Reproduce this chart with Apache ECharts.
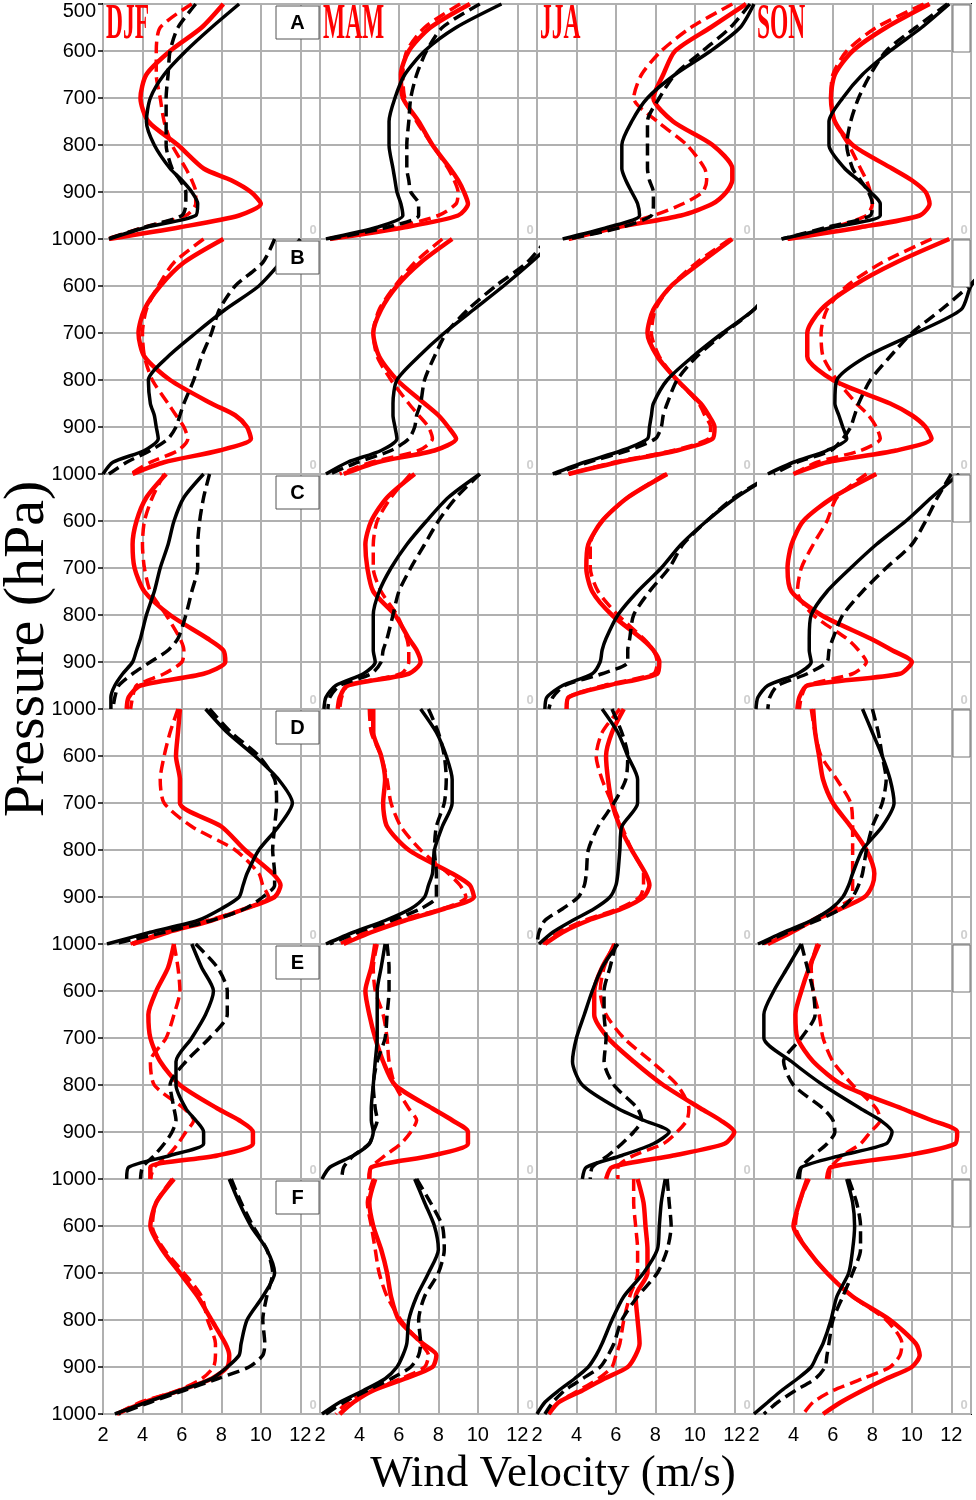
<!DOCTYPE html>
<html>
<head>
<meta charset="utf-8">
<title>Wind velocity profiles</title>
<script src="https://cdn.jsdelivr.net/npm/echarts@6/dist/echarts.min.js"></script>
<style>
  html, body { margin: 0; padding: 0; background: #fff; }
  #chart { width: 976px; height: 1500px; }
</style>
</head>
<body>
<div id="chart"></div>
<script>
// pressure levels (hPa) shared by every profile
var pressure = [500, 550, 600, 650, 700, 750, 800, 850, 875, 900, 925, 950, 975, 1000];
var seasons = ['DJF', 'MAM', 'JJA', 'SON'];
var regions = ['A', 'B', 'C', 'D', 'E', 'F'];
var xTicks = [2, 4, 6, 8, 10, 12];
var yTicks = [500, 600, 700, 800, 900, 1000];

// wind speed (m/s), one sub-array per season: DJF, MAM, JJA, SON
var A_redSolid = [
  [8.1, 7.0, 5.4, 4.2, 3.9, 4.3, 5.8, 7.1, 8.5, 9.5, 10.0, 8.9, 5.9, 2.3],
  [9.6, 7.6, 6.5, 6.1, 6.2, 7.0, 7.7, 8.6, 9.0, 9.3, 9.5, 9.0, 6.3, 2.5],
  [12.6, 10.8, 9.0, 8.4, 7.9, 8.9, 10.9, 11.9, 11.9, 11.6, 10.9, 9.3, 6.1, 3.6],
  [10.9, 8.7, 7.0, 6.1, 5.9, 6.1, 7.0, 9.0, 10.0, 10.7, 10.9, 10.4, 7.4, 3.7]
];
var A_redDashed = [
  [6.5, 4.9, 4.7, 4.7, 4.9, 5.1, 5.5, 6.2, 6.5, 6.7, 6.7, 6.2, 4.1, 2.2],
  [9.1, 7.3, 6.4, 6.2, 6.3, 6.9, 7.7, 8.5, 8.8, 9.0, 8.9, 8.0, 5.8, 2.3],
  [11.9, 9.8, 8.3, 7.3, 6.9, 8.1, 9.6, 10.5, 10.6, 10.4, 9.4, 7.9, 5.8, 3.6],
  [10.6, 8.2, 6.7, 6.0, 5.9, 6.1, 6.8, 7.4, 7.7, 7.9, 8.0, 7.7, 6.0, 3.7]
];
var A_blackSolid = [
  [8.9, 7.5, 6.2, 5.1, 4.4, 4.2, 4.6, 5.4, 6.0, 6.5, 6.8, 6.7, 4.2, 2.3],
  [11.2, 8.9, 7.3, 6.3, 5.8, 5.5, 5.5, 5.7, 5.8, 5.9, 6.1, 6.2, 4.9, 2.3],
  [13.0, 12.3, 10.8, 9.0, 7.6, 6.8, 6.3, 6.3, 6.5, 6.8, 7.1, 7.2, 5.6, 3.3],
  [11.9, 10.5, 8.9, 7.5, 6.5, 5.8, 5.8, 6.6, 7.3, 7.9, 8.4, 8.4, 6.0, 3.4]
];
var A_blackDashed = [
  [6.7, 5.8, 5.4, 5.3, 5.2, 5.2, 5.2, 5.5, 5.9, 6.2, 6.2, 6.0, 4.1, 2.2],
  [10.1, 8.2, 7.4, 6.9, 6.6, 6.5, 6.4, 6.4, 6.5, 6.6, 7.0, 7.0, 5.4, 2.5],
  [12.8, 11.8, 10.4, 9.0, 8.2, 7.6, 7.6, 7.6, 7.7, 7.9, 7.9, 7.8, 6.3, 3.6],
  [11.8, 10.2, 8.7, 7.9, 7.3, 6.9, 6.7, 7.0, 7.4, 7.8, 8.0, 7.9, 5.7, 3.4]
];

var B_redSolid = [
  [8.1, 6.1, 4.9, 4.1, 3.8, 4.1, 5.4, 7.5, 8.7, 9.3, 9.5, 7.9, 5.1, 3.5],
  [8.7, 7.1, 5.9, 5.1, 4.7, 5.0, 5.9, 7.3, 8.0, 8.5, 8.9, 7.8, 4.9, 3.2],
  [11.9, 10.3, 8.8, 7.9, 7.6, 8.1, 9.1, 10.3, 10.7, 11.0, 10.9, 9.1, 6.1, 3.6],
  [11.9, 9.2, 7.0, 5.4, 4.7, 4.7, 6.0, 8.9, 10.0, 10.7, 11.0, 9.2, 5.7, 4.0]
];
var B_redDashed = [
  [7.1, 5.6, 4.8, 4.2, 4.0, 4.1, 4.5, 5.3, 5.7, 6.1, 6.3, 5.8, 4.4, 3.4],
  [8.2, 6.8, 5.8, 5.0, 4.7, 4.9, 5.6, 6.5, 7.0, 7.5, 7.7, 7.0, 4.6, 3.0],
  [11.8, 10.1, 8.8, 8.0, 7.8, 8.2, 9.1, 10.2, 10.5, 10.8, 10.7, 8.9, 5.9, 3.6],
  [11.0, 8.5, 6.7, 5.7, 5.4, 5.5, 6.2, 7.2, 7.8, 8.2, 8.4, 7.4, 5.2, 4.0]
];
var B_blackSolid = [
  [12.0, 11.0, 9.9, 8.2, 6.7, 5.3, 4.3, 4.4, 4.6, 4.7, 4.8, 4.1, 2.5, 2.0],
  [14.0, 12.7, 11.3, 9.8, 8.3, 7.0, 5.9, 5.7, 5.7, 5.8, 5.9, 5.1, 3.4, 2.3],
  [16.0, 15.0, 14.0, 13.0, 11.4, 9.9, 8.6, 7.9, 7.8, 7.7, 7.6, 6.3, 4.4, 2.8],
  [15.0, 14.0, 13.0, 12.5, 10.2, 7.7, 6.2, 6.1, 6.3, 6.5, 6.7, 5.7, 4.0, 2.7]
];
var B_blackDashed = [
  [10.7, 10.1, 8.7, 7.9, 7.5, 7.0, 6.6, 6.1, 5.9, 5.7, 5.3, 4.4, 3.2, 2.3],
  [13.5, 12.5, 10.9, 9.5, 8.4, 7.8, 7.3, 7.1, 6.9, 6.8, 6.5, 5.6, 3.9, 2.5],
  [16.0, 15.0, 14.0, 13.0, 11.5, 10.1, 9.1, 8.6, 8.4, 8.3, 8.0, 6.6, 4.6, 2.9],
  [15.0, 14.0, 12.9, 11.5, 10.0, 8.9, 7.9, 7.3, 7.1, 6.9, 6.5, 5.9, 4.2, 3.0]
];

var C_redSolid = [
  [5.2, 4.2, 3.7, 3.5, 3.6, 4.1, 5.4, 7.3, 8.1, 8.2, 7.1, 3.9, 3.3, 3.2],
  [6.8, 5.4, 4.6, 4.3, 4.4, 4.7, 5.8, 6.5, 6.9, 7.1, 6.5, 3.4, 3.0, 2.9],
  [8.6, 6.6, 5.3, 4.6, 4.5, 4.8, 5.8, 7.3, 7.9, 8.2, 8.1, 5.6, 3.6, 3.5],
  [8.2, 6.0, 4.5, 3.9, 3.7, 3.9, 5.4, 7.9, 9.0, 10.0, 9.4, 4.7, 4.3, 4.2]
];
var C_redDashed = [
  [5.1, 4.5, 4.1, 4.0, 4.1, 4.4, 5.2, 5.9, 6.1, 6.0, 5.1, 3.7, 3.5, 3.4],
  [6.6, 5.6, 4.9, 4.7, 4.7, 5.1, 5.9, 6.4, 6.5, 6.5, 6.1, 3.4, 3.1, 3.0],
  [8.5, 6.6, 5.3, 4.7, 4.7, 5.1, 6.1, 7.4, 7.9, 8.1, 7.9, 5.4, 3.6, 3.5],
  [7.7, 6.2, 5.7, 5.0, 4.4, 4.2, 5.0, 6.7, 7.3, 7.7, 7.0, 4.7, 4.4, 4.3]
];
var C_blackSolid = [
  [7.1, 6.1, 5.6, 5.3, 4.9, 4.6, 4.2, 3.9, 3.7, 3.5, 3.0, 2.6, 2.4, 2.4],
  [10.1, 8.5, 7.4, 6.4, 5.6, 5.0, 4.7, 4.7, 4.7, 4.8, 4.2, 2.8, 2.3, 2.2],
  [14.0, 12.1, 10.6, 9.3, 8.3, 7.1, 6.1, 5.5, 5.3, 5.2, 4.8, 3.3, 2.5, 2.4],
  [12.4, 11.0, 9.7, 8.2, 6.9, 5.7, 4.9, 4.8, 4.8, 4.9, 4.2, 2.7, 2.2, 2.1]
];
var C_blackDashed = [
  [7.4, 7.1, 6.9, 6.8, 6.8, 6.5, 6.2, 5.8, 5.3, 4.4, 3.5, 2.8, 2.6, 2.5],
  [10.1, 8.9, 8.0, 7.3, 6.6, 6.0, 5.7, 5.4, 5.2, 5.1, 4.6, 3.0, 2.5, 2.4],
  [14.0, 12.0, 10.6, 9.4, 8.7, 7.7, 6.9, 6.7, 6.6, 6.6, 5.3, 3.4, 2.8, 2.6],
  [12.0, 11.3, 10.7, 10.0, 8.7, 7.5, 6.5, 6.0, 5.8, 5.7, 4.7, 3.2, 2.8, 2.7]
];

var D_redSolid = [
  [5.9, 5.8, 5.7, 5.9, 5.9, 8.0, 9.2, 10.6, 11.0, 10.7, 9.2, 7.5, 5.3, 3.5],
  [4.7, 4.7, 5.1, 5.3, 5.2, 5.4, 6.5, 8.7, 9.6, 9.8, 8.3, 6.3, 4.6, 3.2],
  [6.4, 5.8, 5.5, 5.6, 5.8, 6.2, 6.8, 7.5, 7.7, 7.4, 6.3, 4.6, 3.3, 2.4],
  [5.0, 5.1, 5.3, 5.5, 6.0, 6.9, 7.7, 8.1, 8.0, 7.6, 6.4, 5.0, 3.9, 2.7]
];
var D_redDashed = [
  [5.8, 5.4, 5.1, 4.9, 5.1, 6.5, 8.7, 9.9, 10.1, 10.4, 9.2, 7.3, 5.1, 3.4],
  [4.5, 4.6, 5.1, 5.4, 5.6, 6.1, 7.1, 8.5, 9.1, 9.4, 8.2, 5.9, 4.2, 3.0],
  [6.2, 5.3, 5.0, 5.3, 5.8, 6.3, 6.8, 7.4, 7.4, 7.2, 6.1, 4.4, 3.1, 2.3],
  [4.9, 5.1, 5.4, 6.2, 6.9, 7.0, 7.0, 7.0, 7.0, 7.0, 6.0, 4.9, 3.7, 2.5]
];
var D_blackSolid = [
  [7.2, 8.3, 9.7, 10.9, 11.6, 10.9, 9.9, 9.3, 9.1, 8.9, 8.0, 6.8, 4.4, 2.2],
  [7.1, 7.9, 8.4, 8.7, 8.7, 8.2, 7.8, 7.7, 7.5, 7.3, 6.6, 5.3, 3.7, 2.3],
  [5.3, 6.1, 6.6, 7.1, 7.1, 6.3, 6.2, 6.1, 6.0, 5.7, 4.9, 3.8, 2.8, 2.1],
  [7.5, 8.0, 8.5, 8.9, 9.1, 8.5, 7.5, 7.0, 6.8, 6.5, 5.9, 4.9, 3.5, 2.2]
];
var D_blackDashed = [
  [7.4, 8.5, 9.9, 10.7, 10.8, 10.7, 10.6, 10.7, 10.7, 10.1, 9.2, 7.5, 5.1, 2.5],
  [7.5, 8.0, 8.3, 8.4, 8.3, 7.9, 7.8, 7.9, 7.9, 7.9, 7.1, 5.6, 3.9, 2.5],
  [5.8, 6.3, 6.6, 6.5, 5.9, 5.1, 4.6, 4.5, 4.4, 4.1, 3.3, 2.4, 2.1, 2.0],
  [8.0, 8.3, 8.5, 8.7, 8.5, 8.0, 7.7, 7.5, 7.3, 7.0, 6.4, 5.2, 3.7, 2.4]
];

var E_redSolid = [
  [5.6, 5.3, 4.7, 4.3, 4.4, 4.9, 5.9, 7.8, 8.9, 9.6, 9.6, 7.8, 4.4, 4.4],
  [4.8, 4.6, 4.3, 4.5, 4.8, 5.2, 5.8, 7.7, 8.7, 9.5, 9.5, 7.7, 4.6, 4.5],
  [6.0, 5.3, 4.9, 4.9, 5.6, 6.9, 8.4, 10.3, 11.3, 12.0, 11.5, 8.9, 5.8, 5.5],
  [5.3, 4.8, 4.4, 4.1, 4.2, 5.0, 6.5, 9.5, 11.0, 12.3, 12.2, 9.7, 5.9, 5.7]
];
var E_redDashed = [
  [5.6, 5.8, 5.9, 5.6, 5.2, 4.4, 4.6, 6.1, 6.6, 6.2, 5.8, 5.3, 4.6, 4.4],
  [4.9, 4.7, 4.8, 5.2, 5.4, 5.5, 5.8, 6.5, 6.9, 6.6, 6.1, 5.3, 4.6, 4.5],
  [5.9, 5.4, 5.2, 5.5, 6.4, 7.8, 9.1, 9.7, 9.6, 9.1, 8.4, 6.9, 6.1, 6.1],
  [5.2, 4.9, 5.0, 5.3, 5.5, 6.0, 7.0, 8.2, 8.4, 7.9, 7.4, 6.5, 5.9, 5.8]
];
var E_blackSolid = [
  [6.5, 7.0, 7.6, 7.2, 6.5, 5.7, 5.7, 6.2, 6.7, 7.1, 7.1, 5.4, 3.3, 3.2],
  [5.3, 5.1, 4.9, 4.9, 4.9, 4.8, 4.7, 4.6, 4.6, 4.7, 4.5, 3.7, 2.5, 2.1],
  [6.1, 5.3, 4.8, 4.4, 4.0, 3.8, 4.3, 6.1, 7.4, 8.7, 7.9, 6.3, 4.5, 4.3],
  [4.4, 3.7, 3.0, 2.5, 2.5, 3.9, 5.5, 7.4, 8.4, 9.0, 8.7, 6.4, 4.4, 4.2]
];
var E_blackDashed = [
  [6.7, 7.8, 8.3, 8.3, 7.4, 6.2, 5.4, 5.6, 5.7, 5.5, 5.1, 4.6, 4.0, 3.9],
  [5.4, 5.5, 5.5, 5.4, 5.3, 4.9, 4.7, 4.8, 4.9, 4.7, 4.5, 3.7, 3.2, 3.1],
  [6.0, 5.7, 5.4, 5.4, 5.5, 5.4, 5.9, 7.1, 7.3, 6.9, 6.3, 5.6, 4.8, 4.7],
  [4.4, 4.7, 5.0, 5.1, 4.4, 3.5, 4.0, 5.5, 6.0, 6.1, 5.7, 5.0, 4.4, 4.3]
];

var F_redSolid = [
  [5.6, 4.7, 4.4, 5.0, 5.9, 6.8, 7.5, 8.2, 8.4, 8.3, 7.5, 5.9, 4.1, 2.7],
  [4.8, 4.5, 4.7, 5.1, 5.4, 5.6, 6.0, 7.2, 7.9, 7.7, 6.3, 4.7, 3.7, 3.0],
  [7.1, 7.4, 7.5, 7.6, 7.6, 7.0, 7.1, 7.2, 7.0, 6.6, 5.4, 4.3, 3.1, 2.6],
  [4.7, 4.3, 4.0, 4.7, 5.7, 7.0, 8.9, 10.2, 10.4, 10.0, 8.7, 7.5, 6.4, 5.5]
];
var F_redDashed = [
  [5.5, 4.7, 4.5, 5.1, 6.1, 7.0, 7.3, 7.7, 7.7, 7.6, 7.0, 5.8, 3.9, 2.7],
  [4.7, 4.4, 4.6, 4.8, 5.0, 5.4, 6.1, 7.1, 7.5, 7.3, 6.1, 4.6, 3.4, 2.8],
  [6.9, 6.9, 7.0, 7.1, 7.1, 6.7, 6.4, 6.2, 6.0, 5.8, 5.1, 4.1, 3.1, 2.6],
  [4.8, 4.3, 4.1, 4.7, 5.7, 7.0, 8.7, 9.5, 9.4, 8.9, 7.5, 6.0, 5.0, 4.5]
];
var F_blackSolid = [
  [8.4, 8.9, 9.5, 10.3, 10.7, 10.1, 9.3, 9.0, 8.9, 8.3, 7.5, 5.9, 4.2, 2.6],
  [6.8, 7.3, 7.8, 8.0, 7.5, 6.9, 6.5, 6.4, 6.2, 5.9, 5.3, 4.2, 3.0, 2.1],
  [8.5, 8.3, 8.2, 8.1, 7.4, 6.4, 5.8, 5.3, 5.0, 4.6, 3.9, 3.1, 2.4, 2.0],
  [6.7, 7.0, 7.1, 7.0, 6.8, 6.2, 5.9, 5.5, 5.2, 4.9, 4.2, 3.4, 2.7, 2.0]
];
var F_blackDashed = [
  [8.5, 9.0, 9.6, 10.3, 10.6, 10.3, 10.1, 10.2, 10.1, 9.4, 7.8, 6.1, 4.4, 2.8],
  [6.9, 7.6, 8.2, 8.3, 8.0, 7.3, 7.0, 7.1, 7.0, 6.6, 5.6, 4.4, 3.2, 2.3],
  [8.6, 8.7, 8.8, 8.6, 8.1, 7.1, 6.3, 5.9, 5.6, 5.2, 4.3, 3.4, 2.8, 2.4],
  [6.8, 7.2, 7.4, 7.4, 7.0, 6.5, 6.0, 5.8, 5.7, 5.6, 5.1, 4.1, 3.2, 2.5]
];

var profiles = {
  A: [A_redSolid, A_redDashed, A_blackSolid, A_blackDashed],
  B: [B_redSolid, B_redDashed, B_blackSolid, B_blackDashed],
  C: [C_redSolid, C_redDashed, C_blackSolid, C_blackDashed],
  D: [D_redSolid, D_redDashed, D_blackSolid, D_blackDashed],
  E: [E_redSolid, E_redDashed, E_blackSolid, E_blackDashed],
  F: [F_redSolid, F_redDashed, F_blackSolid, F_blackDashed]
};
var lineNames = ['red solid', 'red dashed', 'black solid', 'black dashed'];

// line look for the 4 profiles
function lineStyleFor(s) {
  if (s === 0) return { color: '#ff0000', width: 4.5, type: 'solid' };
  if (s === 1) return { color: '#ff0000', width: 3.5, type: [12, 6] };
  if (s === 2) return { color: '#000000', width: 3.5, type: 'solid' };
  return { color: '#000000', width: 3.5, type: [12, 6] };
}

var chart = echarts.init(document.getElementById('chart'));

var colLeft = 103, colW = 217;
var rowTop = 4, rowH = 235;
var gridColor = '#b0b0b0';
var serif = 'Liberation Serif';
var sans = 'Liberation Sans';

var grids = [], xAxes = [], yAxes = [], series = [], graphics = [];

function yLabelFormatter(row) {
  return function (v) {
    if (yTicks.indexOf(v) < 0) return '';
    if (v === 500) return row === 0 ? '{top|500}' : '';
    return String(v);
  };
}

for (var r = 0; r < regions.length; r++) {
  for (var c = 0; c < seasons.length; c++) {
    var idx = r * seasons.length + c;
    var gLeft = colLeft + c * colW;
    var gTop = rowTop + r * rowH;
    grids.push({
      left: gLeft, top: gTop, width: colW, height: rowH,
      show: true, borderColor: '#000', borderWidth: 2
    });
    xAxes.push({
      type: 'value', gridIndex: idx, min: 2, max: 13, interval: 2,
      axisLine: { show: false },
      axisTick: { show: false },
      splitLine: { show: true, lineStyle: { color: gridColor, width: 2 } },
      axisLabel: {
        show: r === regions.length - 1,
        margin: 11,
        fontSize: 20,
        color: '#000',
        fontFamily: sans,
        formatter: function (v) { return xTicks.indexOf(v) >= 0 ? String(v) : ''; }
      }
    });
    yAxes.push({
      type: 'value', gridIndex: idx, min: 500, max: 1000, interval: 100, inverse: true,
      axisLine: { show: false },
      axisTick: { show: c === 0, length: 5, lineStyle: { color: '#000', width: 1.5 } },
      splitLine: { show: true, lineStyle: { color: gridColor, width: 2 } },
      axisLabel: {
        show: c === 0,
        margin: 7,
        fontSize: 20,
        color: '#000',
        fontFamily: sans,
        formatter: yLabelFormatter(r),
        rich: {
          top: { fontSize: 20, color: '#000', fontFamily: sans, padding: [15, 0, 0, 0] }
        }
      }
    });

    var sets = profiles[regions[r]];
    for (var s = 0; s < sets.length; s++) {
      var vals = sets[s][c];
      var pts = [];
      for (var k = 0; k < pressure.length; k++) pts.push([vals[k], pressure[k]]);
      series.push({
        name: lineNames[s],
        type: 'line',
        xAxisIndex: idx,
        yAxisIndex: idx,
        data: pts,
        symbol: 'none',
        smooth: 0.25,
        silent: true,
        lineStyle: lineStyleFor(s)
      });
    }

    // faint "0" left in the corner of every panel
    graphics.push({
      type: 'text', x: gLeft + colW - 7, y: gTop + rowH - 9, z: 50,
      style: { text: '0', font: 'bold 13px ' + sans, fill: '#cfcfcf', align: 'center', verticalAlign: 'middle' }
    });
  }

  // region letter box on the first column
  var bTop = rowTop + r * rowH;
  graphics.push({
    type: 'rect', z: 60,
    shape: { x: colLeft + colW - 44, y: bTop + 2, width: 43, height: 33 },
    style: { fill: '#fff', stroke: '#555', lineWidth: 1 }
  });
  graphics.push({
    type: 'text', z: 61, x: colLeft + colW - 22.5, y: bTop + 19,
    style: { text: regions[r], font: 'bold 20px ' + sans, fill: '#000', align: 'center', verticalAlign: 'middle' }
  });
  // clipped box on the right edge
  graphics.push({
    type: 'rect', z: 60,
    shape: { x: colLeft + 4 * colW - 18, y: bTop + 1, width: 17, height: 47 },
    style: { fill: '#fff', stroke: '#777', lineWidth: 1 }
  });
}

// season names on top row
for (var c2 = 0; c2 < seasons.length; c2++) {
  graphics.push({
    type: 'text', z: 70, x: colLeft + c2 * colW + 3, y: 25, scaleX: 0.46,
    style: { text: seasons[c2], font: 'bold 51px ' + serif, fill: '#ff0000', align: 'left', verticalAlign: 'middle' }
  });
}

// axis titles
graphics.push({
  type: 'text', z: 70, x: 28, y: 649, rotation: Math.PI / 2,
  style: { text: 'Pressure (hPa)', font: '58px ' + serif, fill: '#000', align: 'center', verticalAlign: 'middle' }
});
graphics.push({
  type: 'text', z: 70, x: 553, y: 1474,
  style: { text: 'Wind Velocity (m/s)', font: '45px ' + serif, fill: '#000', align: 'center', verticalAlign: 'middle' }
});

chart.setOption({
  backgroundColor: '#fff',
  animation: false,
  grid: grids,
  xAxis: xAxes,
  yAxis: yAxes,
  series: series,
  graphic: graphics
});
</script>
</body>
</html>
